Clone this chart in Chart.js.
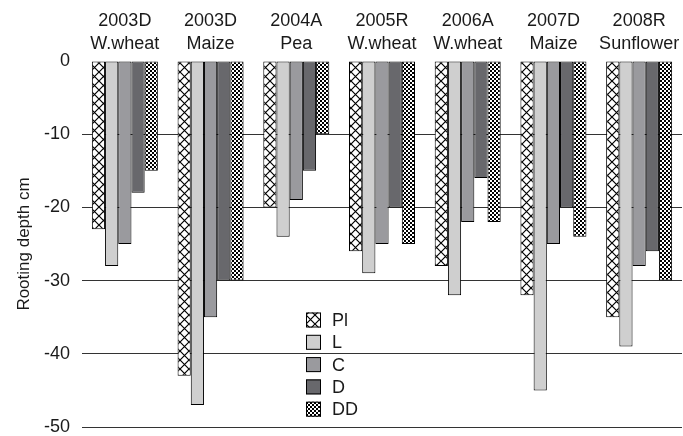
<!DOCTYPE html>
<html>
<head>
<meta charset="utf-8">
<script src="https://cdn.jsdelivr.net/npm/chart.js@4.4.1/dist/chart.umd.min.js"></script>
<style>
  html, body { margin: 0; padding: 0; background: #fff; }
  #wrap { width: 683px; height: 436px; position: relative; }
</style>
</head>
<body>
<div id="wrap"><canvas id="chart"></canvas></div>
<script>
// crops / seasons (two-line labels)
const CATEGORIES = [
  ["2003D", "W.wheat"],
  ["2003D", "Maize"],
  ["2004A", "Pea"],
  ["2005R", "W.wheat"],
  ["2006A", "W.wheat"],
  ["2007D", "Maize"],
  ["2008R", "Sunflower"],
];
const SERIES_NAMES = ["Pl", "L", "C", "D", "DD"];

// rooting depth in cm (negative = below surface)
const PL = [-23, -43, -20, -26, -28, -32, -35];
const L  = [-28, -47, -24, -29, -32, -45, -39];
const C  = [-25, -35, -19, -25, -22, -25, -28];
const D  = [-18, -30, -15, -20, -16, -20, -26];
const DD = [-15, -30, -10, -25, -22, -24, -30];

const Y_MIN = -50, Y_MAX = 0, Y_STEP = 10;

const FONT = "'Liberation Sans', Arial, sans-serif";
const INK = "#1a1a1a";

// ── fill patterns ────────────────────────────────────────────────────────────

function crossHatch() {
  const s = 9;
  const c = document.createElement("canvas");
  c.width = s; c.height = s;
  const g = c.getContext("2d");
  g.fillStyle = "#fff";
  g.fillRect(0, 0, s, s);
  g.strokeStyle = "#000";
  g.lineWidth = 1.2;
  g.beginPath();
  g.moveTo(0, 0); g.lineTo(s, s);
  g.moveTo(s, 0); g.lineTo(0, s);
  g.stroke();
  return g.createPattern(c, "repeat");
}

function fineChecker() {
  const c = document.createElement("canvas");
  c.width = 4; c.height = 4;
  const g = c.getContext("2d");
  g.fillStyle = "#fff";
  g.fillRect(0, 0, 4, 4);
  g.fillStyle = "#000";
  g.fillRect(0, 0, 2, 2);
  g.fillRect(2, 2, 2, 2);
  return g.createPattern(c, "repeat");
}

const FILLS = [crossHatch(), "#cfcfcf", "#9a9a9e", "#68686c", fineChecker()];
const VALUES = [PL, L, C, D, DD];

// ── legend drawn inside the plot ─────────────────────────────────────────────

const insideLegend = {
  id: "insideLegend",
  afterDatasetsDraw(chart, args, opts) {
    const { ctx, chartArea } = chart;
    const x = chartArea.left + opts.dx;
    let y = chartArea.top + opts.dy;
    ctx.save();
    ctx.font = `18px ${FONT}`;
    ctx.textBaseline = "middle";
    chart.data.datasets.forEach(ds => {
      ctx.fillStyle = ds.backgroundColor;
      ctx.fillRect(x, y - opts.box / 2, opts.box, opts.box);
      ctx.strokeStyle = "#000";
      ctx.lineWidth = 1;
      ctx.strokeRect(x + 0.5, y - opts.box / 2 + 0.5, opts.box - 1, opts.box - 1);
      ctx.fillStyle = INK;
      ctx.fillText(ds.label, x + opts.box + 11, y + 1);
      y += opts.gap;
    });
    ctx.restore();
  },
};

new Chart(document.getElementById("chart"), {
  type: "bar",
  data: {
    labels: CATEGORIES,
    datasets: SERIES_NAMES.map((name, i) => ({
      label: name,
      data: VALUES[i],
      backgroundColor: FILLS[i],
      borderColor: "#000",
      borderWidth: 1,
      borderSkipped: false,
      categoryPercentage: 0.77,
      barPercentage: 1.0,
    })),
  },
  options: {
    responsive: true,
    maintainAspectRatio: false,
    animation: false,
    layout: { padding: { right: 1, bottom: 9 } },
    plugins: {
      legend: { display: false },
      tooltip: { enabled: false },
      insideLegend: { dx: 224, dy: 259, box: 15, gap: 22.3 },
    },
    scales: {
      x: {
        position: "top",
        grid: { display: false },
        border: { display: false },
        ticks: {
          color: INK,
          font: { family: FONT, size: 18, lineHeight: 1.25 },
          padding: -2,
          maxRotation: 0,
        },
        afterFit: s => { s.height = 61; },
      },
      y: {
        min: Y_MIN,
        max: Y_MAX,
        border: { display: false },
        grid: {
          drawTicks: false,
          color: c => (c.tick && c.tick.value === 0 ? "rgba(0,0,0,0)" : "#333"),
        },
        ticks: {
          stepSize: Y_STEP,
          color: INK,
          font: { family: FONT, size: 18 },
          padding: 12,
        },
        title: {
          display: true,
          text: "Rooting depth cm",
          color: INK,
          font: { family: FONT, size: 17 },
          padding: { top: 14, bottom: 0 },
        },
        afterFit: s => {
          s.width = 82;
          s.paddingTop = 0;
          s.paddingBottom = 0;
        },
      },
    },
  },
  plugins: [insideLegend],
});
</script>
</body>
</html>
